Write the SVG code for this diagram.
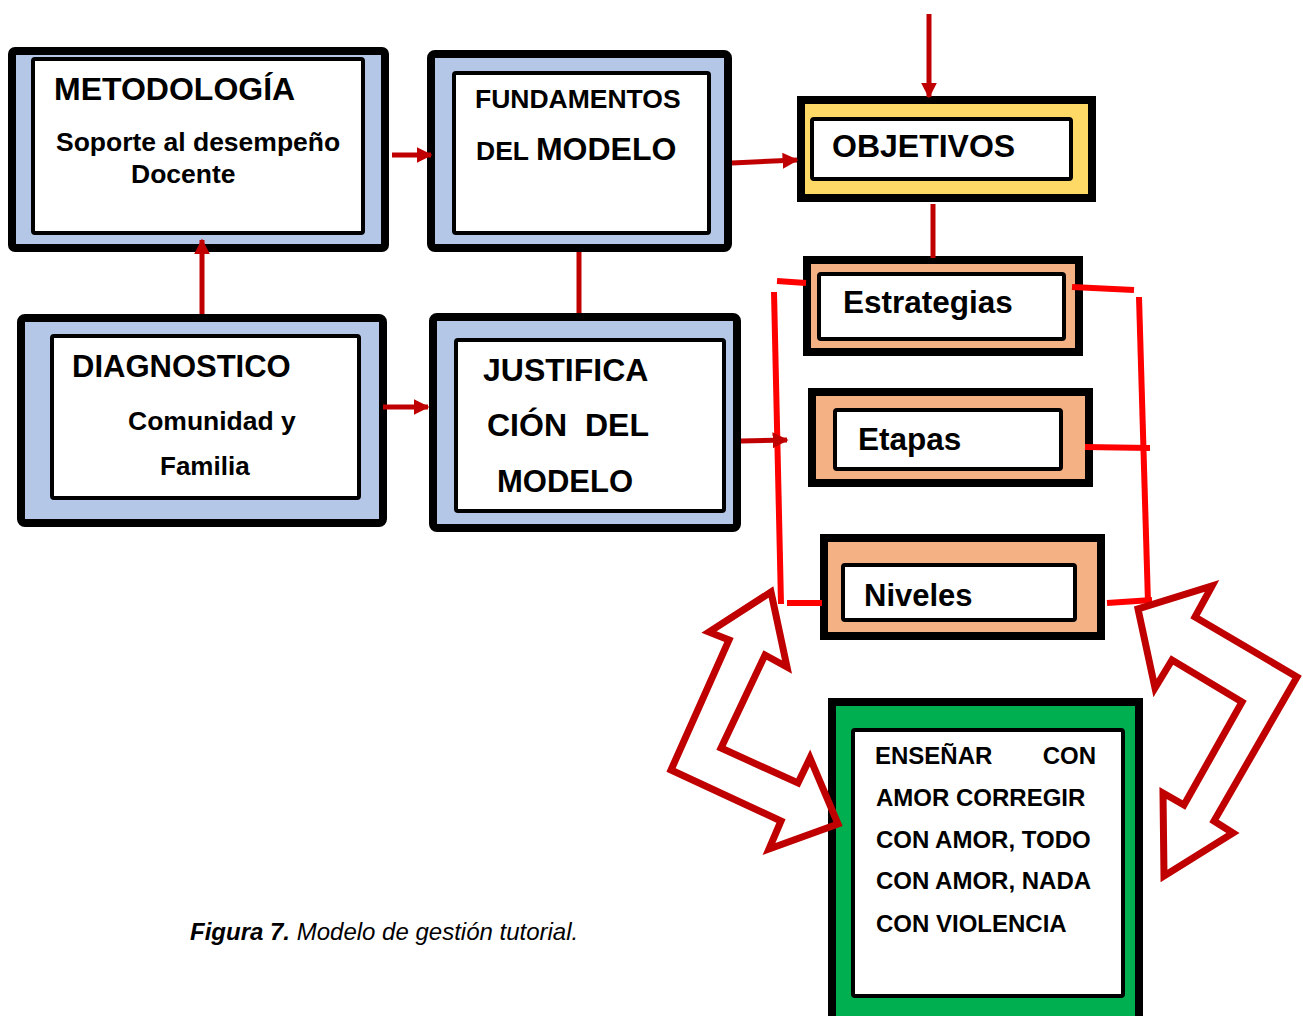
<svg xmlns="http://www.w3.org/2000/svg" width="1303" height="1016" viewBox="0 0 1303 1016">
<defs>
<style>
.t{font-family:"Liberation Sans",Arial,sans-serif;font-weight:bold;fill:#000}
.outer{stroke:#000;stroke-width:8}
.inner{fill:#fff;stroke:#000;stroke-width:4}
.blue{fill:#b4c7e7}
.dr{stroke:#c00000;stroke-width:5;fill:none}
.br{stroke:#ff0000;stroke-width:6;fill:none}
.big{fill:none;stroke:#c00000;stroke-width:7;stroke-linejoin:miter}
</style>
<marker id="ah" viewBox="0 0 10 10" refX="9" refY="5" markerWidth="3.2" markerHeight="3.2" markerUnits="strokeWidth" orient="auto">
<path d="M0,0 L10,5 L0,10 Z" fill="#c00000"/>
</marker>
</defs>
<rect width="1303" height="1016" fill="#fff"/>

<g id="metodologia">
<rect class="outer blue" x="12" y="51" width="373" height="197" rx="3"/>
<rect class="inner" x="33" y="59" width="330" height="174" rx="2"/>
<text class="t" x="54" y="100" font-size="32">METODOLOGÍA</text>
<text class="t" x="56" y="151" font-size="26.5">Soporte al desempeño</text>
<text class="t" x="131" y="183" font-size="26.5">Docente</text>
</g>

<g id="fundamentos">
<rect class="outer blue" x="431" y="54" width="297" height="194" rx="4"/>
<rect class="inner" x="454" y="73" width="255" height="160" rx="2"/>
<text class="t" x="475" y="108" font-size="26.5">FUNDAMENTOS</text>
<text class="t" x="476" y="160" font-size="26.5">DEL <tspan font-size="32">MODELO</tspan></text>
</g>

<g id="objetivos">
<rect class="outer" fill="#ffd966" x="801" y="100" width="291" height="98"/>
<rect class="inner" x="812" y="119" width="259" height="60" rx="2"/>
<text class="t" x="832" y="157" font-size="32">OBJETIVOS</text>
</g>

<g id="diagnostico">
<rect class="outer blue" x="21" y="318" width="362" height="205" rx="4"/>
<rect class="inner" x="52" y="336" width="307" height="162" rx="2"/>
<text class="t" x="72" y="377" font-size="31">DIAGNOSTICO</text>
<text class="t" x="128" y="430" font-size="26.5">Comunidad y</text>
<text class="t" x="160" y="475" font-size="26">Familia</text>
</g>

<g id="justificacion">
<rect class="outer blue" x="433" y="317" width="304" height="211" rx="4"/>
<rect class="inner" x="456" y="340" width="268" height="171" rx="2"/>
<text class="t" x="483" y="381" font-size="32">JUSTIFICA</text>
<text class="t" x="487" y="436" font-size="32">CIÓN</text>
<text class="t" x="585" y="436" font-size="32">DEL</text>
<text class="t" x="497" y="492" font-size="31">MODELO</text>
</g>

<g id="estrategias">
<rect class="outer" fill="#f4b183" x="807" y="260" width="272" height="92"/>
<rect class="inner" x="819" y="274" width="245" height="65" rx="2"/>
<text class="t" x="843" y="313" font-size="31.5">Estrategias</text>
</g>

<g id="etapas">
<rect class="outer" fill="#f4b183" x="812" y="392" width="277" height="91"/>
<rect class="inner" x="835" y="410" width="226" height="59" rx="2"/>
<text class="t" x="858" y="450" font-size="31.5">Etapas</text>
</g>

<g id="niveles">
<rect class="outer" fill="#f4b183" x="824" y="538" width="277" height="98"/>
<rect class="inner" x="843" y="565" width="232" height="55" rx="2"/>
<text class="t" x="864" y="606" font-size="31">Niveles</text>
</g>

<g id="ensenar">
<rect class="outer" fill="#00b050" x="832" y="702" width="307" height="320"/>
<rect class="inner" x="853" y="730" width="270" height="266" rx="2"/>
<text class="t" x="875" y="764" font-size="24">ENSEÑAR</text>
<text class="t" x="1096" y="764" font-size="24" text-anchor="end">CON</text>
<text class="t" x="876" y="806" font-size="24">AMOR CORREGIR</text>
<text class="t" x="876" y="848" font-size="24">CON AMOR, TODO</text>
<text class="t" x="876" y="889" font-size="24">CON AMOR, NADA</text>
<text class="t" x="876" y="932" font-size="24">CON VIOLENCIA</text>
</g>

<g id="connectors">
<line class="dr" x1="929" y1="14" x2="929" y2="97" stroke-width="6" marker-end="url(#ah)"/>
<line class="dr" x1="392" y1="155" x2="431" y2="155" marker-end="url(#ah)"/>
<line class="dr" x1="732" y1="163" x2="797" y2="160" marker-end="url(#ah)"/>
<line class="dr" x1="202" y1="314" x2="202" y2="240" marker-end="url(#ah)"/>
<line class="dr" x1="383" y1="407" x2="428" y2="407" marker-end="url(#ah)"/>
<line class="dr" x1="579" y1="252" x2="579" y2="313"/>
<line class="dr" x1="933" y1="204" x2="933" y2="258"/>
<line class="br" x1="777" y1="281" x2="806" y2="283"/>
<line class="br" x1="774" y1="292" x2="781" y2="604"/>
<line class="br" x1="787" y1="603" x2="822" y2="603"/>
<line class="br" x1="1072" y1="287" x2="1134" y2="290"/>
<line class="br" x1="1139" y1="297" x2="1148" y2="603"/>
<line class="br" x1="1085" y1="447" x2="1150" y2="448"/>
<line class="br" x1="1107" y1="603" x2="1152" y2="600"/>
<line class="dr" x1="741" y1="441" x2="787" y2="440" marker-end="url(#ah)"/>
<polygon class="big" points="771,592 787,667 765,655 721,748 798,783 810,758 838,824 769,849 781,821 671,770 729,640 709,632"/>
<polygon class="big" points="1212,586 1195,617 1297,677 1214,821 1233,833 1164,876 1163,793 1184,805 1242,702 1172,660 1155,688 1138,609"/>
</g>

<text x="190" y="940" font-family="Liberation Sans, Arial, sans-serif" font-size="24" font-style="italic" fill="#000"><tspan font-weight="bold">Figura 7.</tspan> Modelo de gestión tutorial.</text>
</svg>
